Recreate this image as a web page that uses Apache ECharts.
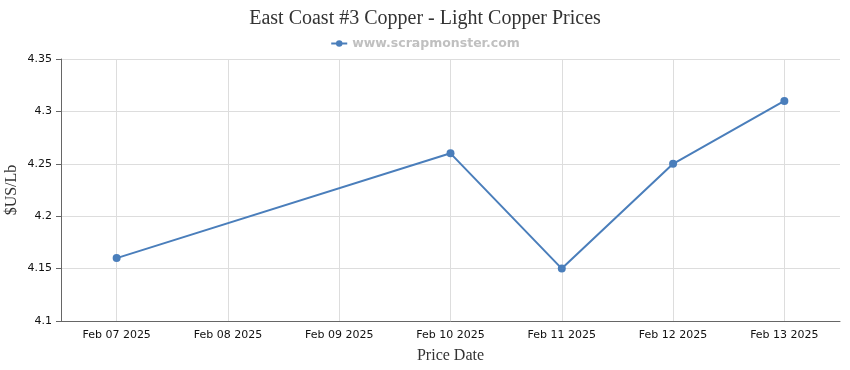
<!DOCTYPE html>
<html>
<head>
<meta charset="utf-8">
<script src="https://cdn.jsdelivr.net/npm/echarts@6/dist/echarts.min.js"></script>
<style>html,body{margin:0;padding:0;background:#fff;}#c{width:850px;height:370px;}</style>
</head>
<body>
<div id="c"></div>
<script>
var categories = ['Feb 07 2025','Feb 08 2025','Feb 09 2025','Feb 10 2025','Feb 11 2025','Feb 12 2025','Feb 13 2025'];
var prices = [4.16, null, null, 4.26, 4.15, 4.25, 4.31];
var yTicks = [4.1, 4.15, 4.2, 4.25, 4.3, 4.35];

var chart = echarts.init(document.getElementById('c'));
chart.setOption({
  animation: false,
  backgroundColor: '#fff',
  title: {
    text: 'East Coast #3 Copper - Light Copper Prices',
    left: 'center', top: 4,
    textStyle: {fontFamily: 'Liberation Serif', fontSize: 20, fontWeight: 'normal', color: '#333'}
  },
  legend: {
    top: 32, left: 'center',
    itemWidth: 16, itemHeight: 8, itemGap: 4,
    textStyle: {fontFamily: 'DejaVu Sans', fontSize: 12.5, fontWeight: 'bold', color: '#c0c0c0'},
    data: ['www.scrapmonster.com']
  },
  grid: {left: 61, right: 10, top: 59, bottom: 49, containLabel: false, outerBoundsMode: 'none'},
  xAxis: {
    type: 'category',
    data: categories,
    boundaryGap: true,
    name: 'Price Date', nameLocation: 'middle', nameGap: 27, nameMoveOverlap: false,
    nameTextStyle: {fontFamily: 'Liberation Serif', fontSize: 16, color: '#333'},
    axisLine: {lineStyle: {color: '#666'}},
    axisTick: {alignWithLabel: true, length: 5, lineStyle: {color: '#666'}},
    axisLabel: {fontFamily: 'DejaVu Sans', fontSize: 11, color: '#111', margin: 9},
    splitLine: {show: false}
  },
  yAxis: {
    type: 'value',
    min: yTicks[0], max: yTicks[yTicks.length-1], interval: 0.05,
    name: '$US/Lb', nameLocation: 'middle', nameGap: 41, nameMoveOverlap: false,
    nameTextStyle: {fontFamily: 'Liberation Serif', fontSize: 16, color: '#333'},
    axisLine: {show: true, lineStyle: {color: '#666'}},
    axisTick: {show: true, length: 5, lineStyle: {color: '#666'}},
    axisLabel: {fontFamily: 'DejaVu Sans', fontSize: 11, color: '#111', margin: 9,
      formatter: function(v){ return String(+v.toFixed(2)); }},
    splitLine: {lineStyle: {color: '#ddd'}}
  },
  series: [{
    name: 'www.scrapmonster.com',
    type: 'line',
    data: prices,
    connectNulls: true,
    symbol: 'circle', symbolSize: 8,
    itemStyle: {color: '#4a7ebb'},
    lineStyle: {color: '#4a7ebb', width: 2},
    markLine: {
      silent: true,
      symbol: ['none', 'none'],
      label: {show: false},
      z: 1,
      lineStyle: {color: '#ddd', type: 'solid', width: 1},
      data: categories.map(function(c){ return {xAxis: c}; })
    }
  }]
});
</script>
</body>
</html>
